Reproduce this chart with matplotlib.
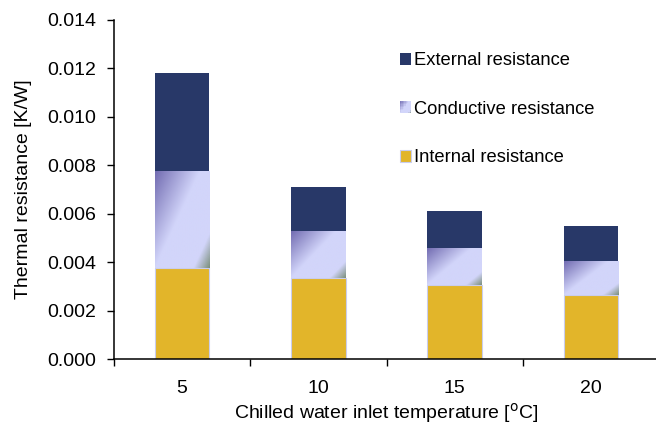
import numpy as np
import matplotlib
matplotlib.use('Agg')
import matplotlib.pyplot as plt
from matplotlib.colors import LinearSegmentedColormap
from matplotlib.patches import Rectangle
from matplotlib.legend_handler import HandlerBase

plt.rcParams['font.family'] = ['Liberation Sans', 'DejaVu Sans']

temps = ['5', '10', '15', '20']
internal = [0.00377, 0.00336, 0.00306, 0.00266]
conductive = [0.00399, 0.00193, 0.00152, 0.00137]
external = [0.00406, 0.00181, 0.00153, 0.00146]

c_int = '#e2b52a'
c_ext = '#283868'
cond_cmap = LinearSegmentedColormap.from_list(
    'cond', [(0.0, '#736db2'), (0.45, '#d2d5fa'), (0.84, '#d2d5fa'), (1.0, '#7d917f')])


def grad_field(nx=80, ny=80):
    # diagonal ramp, 0 at top-left corner, 1 at bottom-right
    u = np.linspace(0, 1, nx)[None, :]
    v = np.linspace(0, 1, ny)[:, None]
    return 0.55 * u + 0.45 * v


class GradientHandler(HandlerBase):
    def create_artists(self, legend, orig_handle, xdescent, ydescent,
                       width, height, fontsize, trans):
        n = 8
        arts = []
        for i in range(n):
            for j in range(n):
                s = 0.55 * (i + 0.5) / n + 0.45 * (n - j - 0.5) / n
                r = Rectangle((-xdescent + i * width / n, -ydescent + j * height / n),
                              width / n, height / n, facecolor=cond_cmap(s),
                              edgecolor='none', antialiased=False, transform=trans)
                arts.append(r)
        return arts


fig = plt.figure(figsize=(6.56, 4.25), dpi=100)
ax = fig.add_axes([114 / 656, 66 / 425, 545 / 656, 339 / 425])

x = np.arange(len(temps))
w = 0.4
bottom2 = np.array(internal)
bottom3 = bottom2 + np.array(conductive)

b1 = ax.bar(x, internal, w, color=c_int, edgecolor='#c9cdee', linewidth=0.8,
            label='Internal resistance', zorder=2)
b2 = ax.bar(x, conductive, w, bottom=bottom2, color='#d2d5fa', linewidth=0,
            label='Conductive resistance', zorder=2)
b3 = ax.bar(x, external, w, bottom=bottom3, color=c_ext, linewidth=0,
            label='External resistance', zorder=2)

# fill conductive segments with a diagonal shading
for p in b2.patches:
    x0, y0 = p.get_x(), p.get_y()
    im = ax.imshow(grad_field(), cmap=cond_cmap, vmin=0, vmax=1,
                   extent=(x0, x0 + p.get_width(), y0, y0 + p.get_height()),
                   aspect='auto', interpolation='bilinear', zorder=2.5)
    im.set_clip_path(p)

ax.set_xlim(-0.5, len(temps) - 0.5)
ax.set_ylim(0, 0.014)
ax.set_yticks(np.arange(0, 0.0141, 0.002))
ax.set_yticklabels([f'{v:.3f}' for v in np.arange(0, 0.0141, 0.002)])
ax.set_xticks(x)
ax.set_xticklabels(temps)
ax.set_xticks(np.arange(-0.5, len(temps)), minor=True)

for s in ['top', 'right']:
    ax.spines[s].set_visible(False)
for s in ['left', 'bottom']:
    ax.spines[s].set_linewidth(1.1)

ax.tick_params(axis='y', direction='out', length=5, width=1.0, pad=8, labelsize=14)
ax.tick_params(axis='x', which='major', length=0, pad=15, labelsize=14)
ax.tick_params(axis='x', which='minor', direction='out', length=5, width=1.0)

ax.set_ylabel('Thermal resistance [K/W]', fontsize=14, labelpad=11)
ax.set_xlabel('Chilled water inlet temperature [$^{\\mathrm{o}}$C]', fontsize=14, labelpad=3)

ax.legend([b3, b2, b1], ['External resistance', 'Conductive resistance', 'Internal resistance'],
          handler_map={b2: GradientHandler()},
          loc='upper left', bbox_to_anchor=(0.5248, 0.905), frameon=False,
          fontsize=13.2, handlelength=0.6, handleheight=0.6, handletextpad=0.15,
          labelspacing=1.72, borderpad=0, borderaxespad=0)

fig.savefig('out.png', dpi=100)
